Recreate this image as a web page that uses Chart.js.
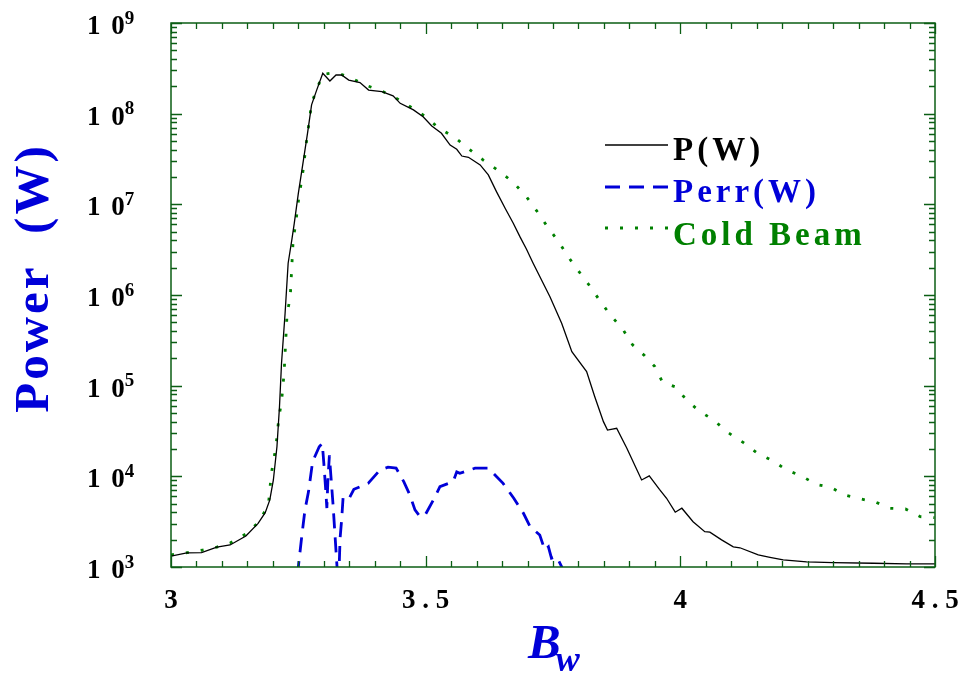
<!DOCTYPE html>
<html><head><meta charset="utf-8">
<script src="https://cdn.jsdelivr.net/npm/chart.js@4/dist/chart.umd.min.js"></script>
<style>html,body{margin:0;padding:0;background:#fff}canvas{display:block}</style>
</head><body>
<canvas id="c" width="964" height="675"></canvas>
<script>
// ---- data ----
const pX = [3.000,3.031,3.060,3.090,3.116,3.147,3.171,3.185,3.194,3.201,3.208,3.213,3.217,3.224,3.230,3.237,3.242,3.250,3.260,3.268,3.276,3.286,3.298,3.312,3.324,3.335,3.349,3.371,3.388,3.414,3.436,3.450,3.476,3.495,3.512,3.531,3.548,3.561,3.571,3.584,3.607,3.623,3.639,3.656,3.672,3.685,3.698,3.711,3.744,3.767,3.787,3.816,3.832,3.849,3.857,3.875,3.895,3.924,3.939,3.959,3.973,3.990,4.003,4.025,4.048,4.058,4.081,4.104,4.117,4.153,4.176,4.202,4.248,4.300,4.379,4.444,4.500];
const pY = [1.32e3,1.43e3,1.44e3,1.66e3,1.75e3,2.20e3,3.03e3,3.98e3,5.50e3,9.12e3,2.12e4,5.86e4,1.77e5,6.28e5,2.24e6,3.98e6,6.18e6,1.32e7,3.08e7,6.07e7,1.25e8,1.82e8,2.79e8,2.29e8,2.67e8,2.67e8,2.35e8,2.20e8,1.82e8,1.75e8,1.57e8,1.30e8,1.10e8,9.25e7,7.31e7,6.07e7,4.51e7,4.05e7,3.41e7,3.30e7,2.72e7,2.11e7,1.38e7,9.04e6,6.18e6,4.40e6,3.19e6,2.24e6,9.57e5,4.88e5,2.37e5,1.43e5,7.55e4,4.01e4,3.24e4,3.39e4,2.04e4,9.12e3,1.01e4,7.19e3,5.73e3,4.02e3,4.45e3,3.16e3,2.45e3,2.42e3,1.99e3,1.67e3,1.63e3,1.36e3,1.28e3,1.20e3,1.14e3,1.12e3,1.10e3,1.08e3,1.08e3];

const errX = [3.248,3.257,3.263,3.270,3.278,3.291,3.297,3.300,3.304,3.306,3.308,3.311,3.314,3.318,3.322,3.326,3.329,3.332,3.335,3.338,3.350,3.359,3.387,3.410,3.426,3.442,3.457,3.469,3.479,3.489,3.499,3.515,3.528,3.554,3.561,3.567,3.597,3.623,3.652,3.673,3.692,3.705,3.724,3.734,3.741,3.747,3.757,3.767,3.772];
const errY = [794,2.25e3,4.26e3,6.78e3,1.45e4,2.12e4,2.31e4,1.41e4,6.76e3,4.47e3,8.91e3,1.70e4,1.0e4,5.01e3,2.24e3,1.0e3,631,2.09e3,3.31e3,5.97e3,5.73e3,7.19e3,8.37e3,1.17e4,1.26e4,1.23e4,8.73e3,6.22e3,4.26e3,3.59e3,3.75e3,5.48e3,7.69e3,8.73e3,1.12e4,1.08e4,1.23e4,1.23e4,8.37e3,5.73e3,3.91e3,2.79e3,2.25e3,1.54e3,1.67e3,1.25e3,1.30e3,1.01e3,708];

const coldX = [3.000,3.029,3.060,3.090,3.117,3.147,3.173,3.191,3.194,3.196,3.201,3.206,3.212,3.217,3.222,3.225,3.228,3.234,3.237,3.240,3.245,3.248,3.252,3.257,3.261,3.264,3.268,3.272,3.276,3.286,3.298,3.324,3.353,3.381,3.410,3.438,3.467,3.498,3.525,3.558,3.585,3.613,3.642,3.672,3.698,3.720,3.739,3.762,3.781,3.801,3.823,3.844,3.864,3.888,3.906,3.930,3.950,3.965,3.991,4.012,4.037,4.065,4.094,4.124,4.152,4.181,4.209,4.238,4.266,4.296,4.323,4.353,4.384,4.412,4.442,4.471,4.499];
const coldY = [1.36e3,1.43e3,1.53e3,1.66e3,1.85e3,2.31e3,3.16e3,4.83e3,6.78e3,9.91e3,1.45e4,2.12e4,4.55e4,6.65e4,1.37e5,2.93e5,6.38e5,9.20e5,1.97e6,4.22e6,6.07e6,8.89e6,1.30e7,1.90e7,2.79e7,4.05e7,5.92e7,8.73e7,1.30e8,1.85e8,2.72e8,2.83e8,2.49e8,2.07e8,1.82e8,1.53e8,1.22e8,9.42e7,7.00e7,5.43e7,4.07e7,3.08e7,2.37e7,1.75e7,1.21e7,8.17e6,5.66e6,3.81e6,2.58e6,1.81e6,1.24e6,8.32e5,5.90e5,4.11e5,2.83e5,2.14e5,1.62e5,1.09e5,9.66e4,6.95e4,5.26e4,4.19e4,3.03e4,2.35e4,1.79e4,1.49e4,1.17e4,1.01e4,8.17e3,7.53e3,6.22e3,5.66e3,5.18e3,4.44e3,4.37e3,3.59e3,3.50e3];

const seriesLabels = ['P(W)', 'Perr(W)', 'Cold Beam'];
const xTickValues = [3, 3.5, 4, 4.5];
const xTickLabels = ['3', '3 . 5', '4', '4 . 5'];
const yTickExponents = [3, 4, 5, 6, 7, 8, 9];
const xTitleMain = 'B', xTitleSub = 'w';
const yTitle = 'Power  (W)';

// ---- styling ----
const FRAME = '#0b5e14';
const BLACK = '#000000', BLUE = '#0000d8', GREEN = '#008000';
const SERIF = "'Liberation Serif', 'Times New Roman', serif";

const toPts = (xs, ys) => xs.map((v, i) => ({x: v, y: ys[i]}));

const framePlugin = {
  id: 'frame',
  afterDatasetsDraw(chart) {
    const {ctx, chartArea: a, scales} = chart;
    const xs = scales.x, ys = scales.y;
    ctx.save();
    // frame
    ctx.strokeStyle = FRAME; ctx.lineWidth = 1.5;
    ctx.strokeRect(a.left, a.top, a.right - a.left, a.bottom - a.top);
    ctx.lineWidth = 1.3;
    ctx.beginPath();
    // x ticks (minor 0.05, major 0.5) top & bottom, pointing inward
    for (let i = 0; i <= 30; i++) {
      const v = 3 + i * 0.05;
      const px = Math.round(xs.getPixelForValue(v)) + 0.5;
      const len = (i % 10 === 0) ? 11 : 6;
      ctx.moveTo(px, a.bottom); ctx.lineTo(px, a.bottom - len);
      ctx.moveTo(px, a.top); ctx.lineTo(px, a.top + len);
    }
    // y ticks (log) left & right
    for (let e = 3; e <= 9; e++) {
      for (let m = 1; m <= 9; m++) {
        if (e === 9 && m > 1) break;
        const v = m * Math.pow(10, e);
        const py = Math.round(ys.getPixelForValue(v)) + 0.5;
        const len = (m === 1) ? 11 : 6;
        ctx.moveTo(a.left, py); ctx.lineTo(a.left + len, py);
        ctx.moveTo(a.right, py); ctx.lineTo(a.right - len, py);
      }
    }
    ctx.stroke();

    // x tick labels
    ctx.fillStyle = '#000';
    ctx.font = 'bold 27px ' + SERIF;
    ctx.textAlign = 'center'; ctx.textBaseline = 'alphabetic';
    xTickValues.forEach((v, i) => {
      ctx.fillText(xTickLabels[i], xs.getPixelForValue(v), a.bottom + 41);
    });
    // y tick labels "1 0^n"
    ctx.textAlign = 'left';
    yTickExponents.forEach(n => {
      const py = ys.getPixelForValue(Math.pow(10, n));
      ctx.font = 'bold 27px ' + SERIF;
      ctx.letterSpacing = '2px';
      const base = '1 0';
      const w = ctx.measureText(base).width;
      ctx.fillText(base, 87, py + 11);
      ctx.letterSpacing = '0px';
      ctx.font = 'bold 19px ' + SERIF;
      ctx.fillText(String(n), 87 + w - 2, py + 0.5);
    });

    // axis titles
    ctx.fillStyle = BLUE;
    ctx.font = 'italic bold 49px ' + SERIF;
    ctx.textAlign = 'left';
    const bx = 528;
    ctx.fillText(xTitleMain, bx, 658);
    const bw = ctx.measureText(xTitleMain).width;
    ctx.font = 'italic bold 36px ' + SERIF;
    ctx.fillText(xTitleSub, bx + bw - 5, 671);

    ctx.save();
    ctx.translate(48, 278);
    ctx.rotate(-Math.PI / 2);
    ctx.font = 'bold 49px ' + SERIF;
    ctx.letterSpacing = '3px';
    ctx.textAlign = 'center';
    ctx.fillText(yTitle, 0, 0);
    ctx.restore();

    // legend
    const lx0 = 605, lx1 = 668;
    const lineYs = [145, 187, 228];
    chart.data.datasets.forEach((ds, i) => {
      const ly = lineYs[i];
      ctx.save();
      ctx.strokeStyle = ds.borderColor;
      ctx.lineWidth = ds.borderWidth;
      ctx.setLineDash(ds.borderDash || []);
      ctx.beginPath(); ctx.moveTo(lx0, ly); ctx.lineTo(lx1, ly); ctx.stroke();
      ctx.restore();
      ctx.fillStyle = ds.borderColor;
      ctx.font = 'bold 33px ' + SERIF;
      ctx.letterSpacing = '4px';
      ctx.textAlign = 'left';
      ctx.fillText(ds.label, 673, ly + 15 + (i === 2 ? 2 : 0));
      ctx.letterSpacing = '0px';
    });
    ctx.restore();
  }
};

new Chart(document.getElementById('c').getContext('2d'), {
  type: 'line',
  data: {
    datasets: [
      {label: seriesLabels[0], data: toPts(pX, pY), borderColor: BLACK, borderWidth: 1.3, pointRadius: 0, tension: 0, fill: false},
      {label: seriesLabels[1], data: toPts(errX, errY), borderColor: BLUE, borderWidth: 2.8, borderDash: [15, 9], pointRadius: 0, tension: 0, fill: false},
      {label: seriesLabels[2], data: toPts(coldX, coldY), borderColor: GREEN, borderWidth: 2.8, borderDash: [3, 12], pointRadius: 0, tension: 0, fill: false}
    ]
  },
  options: {
    responsive: false,
    animation: false,
    layout: {padding: {left: 171, right: 29, top: 23, bottom: 108}},
    scales: {
      x: {type: 'linear', min: 3, max: 4.5, display: false},
      y: {type: 'logarithmic', min: 1e3, max: 1e9, display: false}
    },
    plugins: {legend: {display: false}, tooltip: {enabled: false}}
  },
  plugins: [framePlugin]
});
</script>
</body></html>
